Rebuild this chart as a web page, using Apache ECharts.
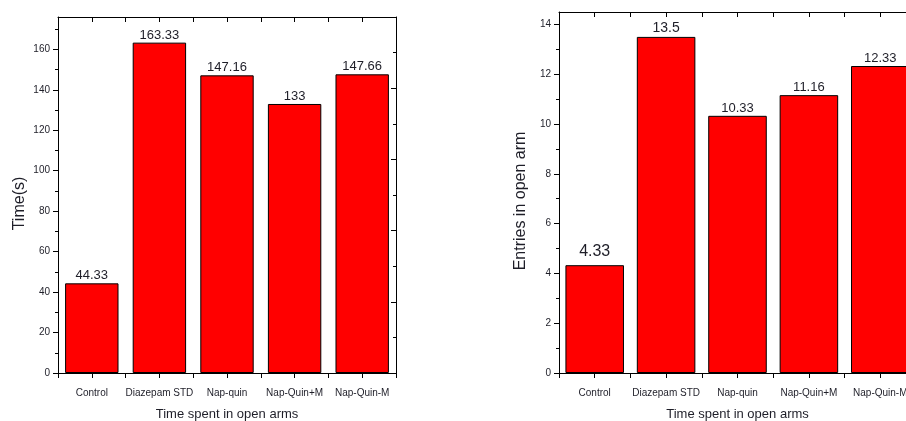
<!DOCTYPE html>
<html>
<head>
<meta charset="utf-8">
<script src="https://cdn.jsdelivr.net/npm/echarts@6/dist/echarts.min.js"></script>
<style>
html,body{margin:0;padding:0;background:#fff;}
#c{width:906px;height:421px;}
</style>
</head>
<body>
<div id="c"></div>
<script>
// ---- data ----
var categories = ['Control', 'Diazepam STD', 'Nap-quin', 'Nap-Quin+M', 'Nap-Quin-M'];
var timeValues = [44.33, 163.33, 147.16, 133, 147.66];
var entryValues = [4.33, 13.5, 10.33, 11.16, 12.33];
var timeTicks = [0, 20, 40, 60, 80, 100, 120, 140, 160];
var timeMinorTicks = [10, 30, 50, 70, 90, 110, 130, 150, 170];
var timeMax = 176;
var timeMirrorTicks = [0, 35.2, 70.4, 105.6, 140.8, 176];
var timeMirrorMinor = [17.6, 52.8, 88, 123.2, 158.4];
var entryTicks = [0, 2, 4, 6, 8, 10, 12, 14];
var entryMinorTicks = [1, 3, 5, 7, 9, 11, 13];
var entryMax = 14.5;
var xTitle = 'Time spent in open arms';
var leftYTitle = 'Time(s)';
var rightYTitle = 'Entries in open arm';

// ---- chart ----
var FONT = 'Arial, "Liberation Sans", sans-serif';
var TXT = '#1e1e28';
var chart = echarts.init(document.getElementById('c'), null, {renderer: 'canvas'});

function xAxesFor(gi) {
  var base = {type: 'category', data: categories, gridIndex: gi, boundaryGap: true};
  return [
    Object.assign({}, base, {
      position: 'bottom',
      name: xTitle, nameLocation: 'middle', nameGap: 35,
      nameTextStyle: {fontFamily: FONT, fontSize: 13, color: TXT},
      axisLine: {show: true, onZero: false, lineStyle: {color: '#000', width: 1}},
      axisTick: {show: true, interval: 0, inside: false, length: 5, alignWithLabel: false, lineStyle: {color: '#000'}},
      axisLabel: {interval: 0, margin: 15, fontFamily: FONT, fontSize: 10, color: TXT},
      splitLine: {show: false}
    }),
    Object.assign({}, base, {
      position: 'bottom',
      axisLine: {show: false, onZero: false},
      axisTick: {show: true, interval: 0, inside: false, length: 5, alignWithLabel: true, lineStyle: {color: '#000'}},
      axisLabel: {show: false, interval: 0}, splitLine: {show: false}
    }),
    Object.assign({}, base, {
      position: 'top',
      axisLine: {show: true, onZero: false, lineStyle: {color: '#000', width: 1}},
      axisTick: {show: true, interval: 0, inside: true, length: 5, alignWithLabel: false, lineStyle: {color: '#000'}},
      axisLabel: {show: false, interval: 0}, splitLine: {show: false}
    }),
    Object.assign({}, base, {
      position: 'top',
      axisLine: {show: false, onZero: false},
      axisTick: {show: true, interval: 0, inside: true, length: 5, alignWithLabel: true, lineStyle: {color: '#000'}},
      axisLabel: {show: false, interval: 0}, splitLine: {show: false}
    })
  ];
}

function yMain(gi, max, ticks, minor, title) {
  return [
    {
      type: 'value', gridIndex: gi, min: 0, max: max, position: 'left',
      name: title, nameLocation: 'middle', nameGap: 30, nameRotate: 90,
      nameTextStyle: {fontFamily: FONT, fontSize: 16, color: TXT, padding: [0, 17, 0, 0]},
      axisLine: {show: true, onZero: false, lineStyle: {color: '#000', width: 1}},
      axisTick: {show: true, inside: false, length: 5, customValues: ticks, lineStyle: {color: '#000'}},
      axisLabel: {customValues: ticks, margin: 8, fontFamily: FONT, fontSize: 10, color: TXT},
      splitLine: {show: false}
    },
    {
      type: 'value', gridIndex: gi, min: 0, max: max, position: 'left',
      axisLine: {show: false, onZero: false},
      axisTick: {show: true, inside: false, length: 3, customValues: minor, lineStyle: {color: '#000'}},
      axisLabel: {show: false}, splitLine: {show: false}
    }
  ];
}

var yAxes = [];
yAxes = yAxes.concat(yMain(0, timeMax, timeTicks, timeMinorTicks, leftYTitle));
yAxes.push({
  type: 'value', gridIndex: 0, min: 0, max: timeMax, position: 'right',
  axisLine: {show: true, onZero: false, lineStyle: {color: '#000', width: 1}},
  axisTick: {show: true, inside: true, length: 5, customValues: timeMirrorTicks, lineStyle: {color: '#000'}},
  axisLabel: {show: false}, splitLine: {show: false}
});
yAxes.push({
  type: 'value', gridIndex: 0, min: 0, max: timeMax, position: 'right',
  axisLine: {show: false, onZero: false},
  axisTick: {show: true, inside: true, length: 3, customValues: timeMirrorMinor, lineStyle: {color: '#000'}},
  axisLabel: {show: false}, splitLine: {show: false}
});
yAxes = yAxes.concat(yMain(1, entryMax, entryTicks, entryMinorTicks, rightYTitle));
yAxes.push({
  type: 'value', gridIndex: 1, min: 0, max: entryMax, position: 'right',
  axisLine: {show: true, onZero: false, lineStyle: {color: '#000', width: 1}},
  axisTick: {show: false}, axisLabel: {show: false}, splitLine: {show: false}
});

function barData(vals, special) {
  return vals.map(function (v, i) {
    var s = special[i] || {};
    return {
      value: v,
      label: {fontSize: s.fs || 13, distance: s.d == null ? 1 : s.d}
    };
  });
}

var option = {
  backgroundColor: '#fff',
  animation: false,
  grid: [
    {left: 58, top: 17, right: 510, bottom: 48, containLabel: false, outerBoundsMode: 'none'},
    {left: 559, top: 12, width: 357, bottom: 48, containLabel: false, outerBoundsMode: 'none'}
  ],
  xAxis: xAxesFor(0).concat(xAxesFor(1)),
  yAxis: yAxes,
  series: [
    {
      type: 'bar', xAxisIndex: 0, yAxisIndex: 0, barWidth: '79%',
      data: barData(timeValues, {}),
      itemStyle: {color: '#ff0000', borderColor: '#000', borderWidth: 1},
      label: {show: true, position: 'top', fontFamily: FONT, color: TXT}
    },
    {
      type: 'bar', xAxisIndex: 4, yAxisIndex: 4, barWidth: '82%',
      data: barData(entryValues, {0: {fs: 16, d: 6}, 1: {fs: 14, d: 2}}),
      itemStyle: {color: '#ff0000', borderColor: '#000', borderWidth: 1},
      label: {show: true, position: 'top', fontFamily: FONT, color: TXT}
    }
  ]
};
chart.setOption(option);
</script>
</body>
</html>
